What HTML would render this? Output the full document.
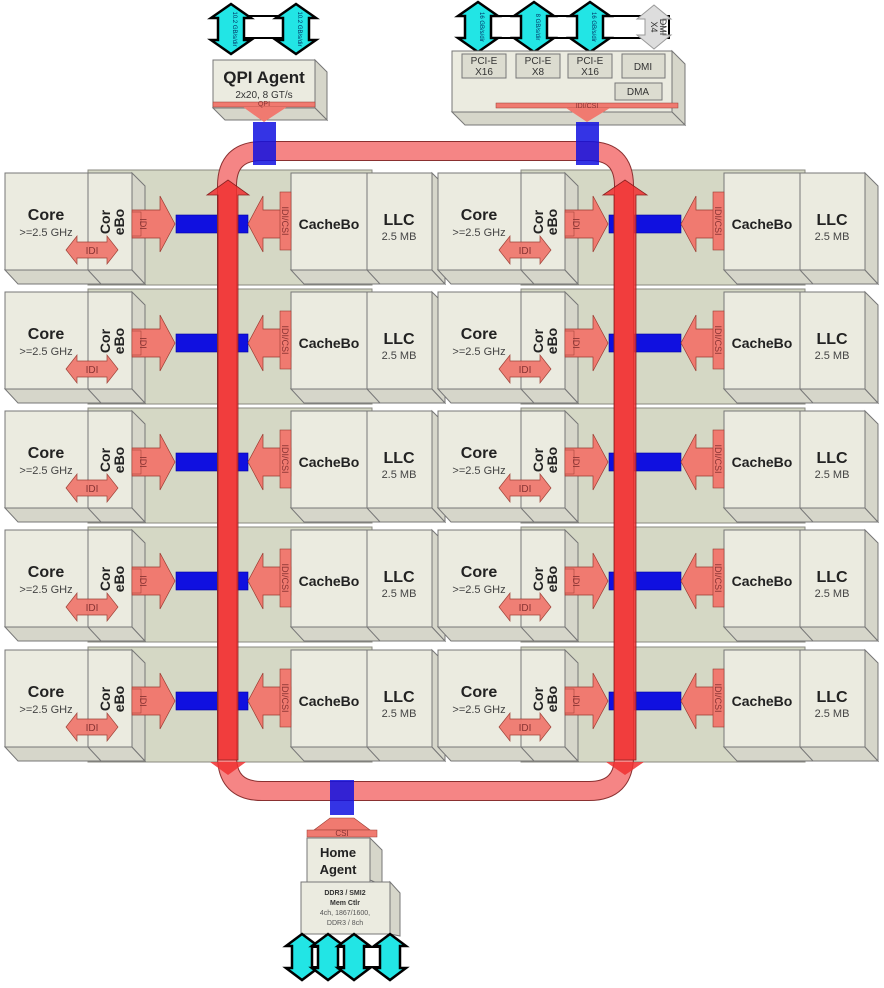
<!DOCTYPE html>
<html><head><meta charset="utf-8"><style>
html,body{margin:0;padding:0;background:#fff;width:884px;height:988px;overflow:hidden}
svg{display:block;font-family:"Liberation Sans",sans-serif}
</style></head><body>
<svg width="884" height="988" viewBox="0 0 884 988" xmlns="http://www.w3.org/2000/svg">
<defs>
<g id="tile">
  <rect x="88" y="0" width="284" height="115" fill="#d5d8c5" stroke="#8a8a80"/>
  <polygon points="5,100 132,100 145,114 18,114" fill="#d6d6ca" stroke="#777"/>
  <polygon points="132,3 145,16 145,114 132,100" fill="#d6d6ca" stroke="#777"/>
  <rect x="5" y="3" width="127" height="97" fill="#ebebe0" stroke="#777"/>
  <line x1="88" y1="3" x2="88" y2="100" stroke="#777"/>
  <line x1="88" y1="100" x2="101" y2="114" stroke="#777"/>
  <polygon points="291,100 432,100 445,114 304,114" fill="#d6d6ca" stroke="#777"/>
  <polygon points="432,3 445,16 445,114 432,100" fill="#d6d6ca" stroke="#777"/>
  <rect x="291" y="3" width="76" height="97" fill="#ebebe0" stroke="#777"/>
  <rect x="367" y="3" width="65" height="97" fill="#ebebe0" stroke="#777"/>
  <line x1="367" y1="100" x2="380" y2="114" stroke="#777"/>
  <rect x="176" y="45" width="72" height="18" fill="#1010e0" stroke="#0000a0" stroke-width="0.6"/>
  <path d="M132,40 H160 V26 L175,54 L160,82 V68 H132 Z" fill="#f07a70" stroke="#9a3a30" stroke-width="0.7"/>
  <path d="M291,40 H263 V26 L248,54 L263,82 V68 H291 Z" fill="#f07a70" stroke="#9a3a30" stroke-width="0.7"/>
  <rect x="280" y="22" width="11" height="58" fill="#f07a70" stroke="#9a3a30" stroke-width="0.6"/>
  <path d="M66,80 L77,66 V72 H107 V66 L118,80 L107,94 V88 H77 V94 Z" fill="#f07a70" stroke="#9a3a30" stroke-width="0.7" opacity="0.95"/>
  <rect x="132" y="42" width="9" height="24" fill="#f07a70" stroke="#9a3a30" stroke-width="0.5"/>
  <text x="46" y="50" font-size="16" font-weight="bold" text-anchor="middle" fill="#222">Core</text>
  <text x="46" y="66" font-size="11" text-anchor="middle" fill="#444">&gt;=2.5 GHz</text>
  <text x="92" y="84" font-size="10" text-anchor="middle" fill="#833">IDI</text>
  <text transform="translate(110,52) rotate(-90)" font-size="14" font-weight="bold" text-anchor="middle" fill="#222">Cor</text>
  <text transform="translate(124,52) rotate(-90)" font-size="14" font-weight="bold" text-anchor="middle" fill="#222">eBo</text>
  <text transform="translate(140,54) rotate(90)" font-size="9" text-anchor="middle" fill="#833">IDI</text>
  <text transform="translate(282,51) rotate(90)" font-size="9" text-anchor="middle" fill="#833">IDI/CSI</text>
  <text x="329" y="59" font-size="14" font-weight="bold" text-anchor="middle" fill="#222">CacheBo</text>
  <text x="399" y="55" font-size="16" font-weight="bold" text-anchor="middle" fill="#222">LLC</text>
  <text x="399" y="70" font-size="11" text-anchor="middle" fill="#444">2.5 MB</text>
</g>
<path id="cy" d="M0,-25 L20,-11 H13 V11 H20 L0,25 L-20,11 H-13 V-11 H-20 Z" fill="#22e5e5" stroke="#000" stroke-width="2.5"/>
<path id="cys" d="M0,-23 L16,-11 H10 V11 H16 L0,23 L-16,11 H-10 V-11 H-16 Z" fill="#22e5e5" stroke="#000" stroke-width="2.5"/>
</defs>

<use href="#tile" x="0" y="170"/><use href="#tile" x="433" y="170"/>
<use href="#tile" x="0" y="289"/><use href="#tile" x="433" y="289"/>
<use href="#tile" x="0" y="408"/><use href="#tile" x="433" y="408"/>
<use href="#tile" x="0" y="527"/><use href="#tile" x="433" y="527"/>
<use href="#tile" x="0" y="647"/><use href="#tile" x="433" y="647"/>

<!-- QPI agent -->
<rect x="244" y="16" width="40" height="22" fill="#fff" stroke="#000" stroke-width="2"/>
<use href="#cy" x="231" y="29"/><use href="#cy" x="296" y="29"/>
<text transform="translate(233,29) rotate(90)" font-size="6" text-anchor="middle" fill="#036">10.2 GB/s/dir</text>
<text transform="translate(298,29) rotate(90)" font-size="6" text-anchor="middle" fill="#036">10.2 GB/s/dir</text>
<polygon points="315,60 327,72 327,120 315,108" fill="#d6d6ca" stroke="#777"/>
<polygon points="213,108 315,108 327,120 225,120" fill="#d6d6ca" stroke="#777"/>
<rect x="213" y="60" width="102" height="48" fill="#ebebe0" stroke="#777"/>
<rect x="213" y="102" width="102" height="5" fill="#f07a70" stroke="#9a3a30" stroke-width="0.5"/>
<polygon points="243,107 287,107 264,122" fill="#f07a70"/>
<text x="264" y="83" font-size="17" font-weight="bold" text-anchor="middle" fill="#222">QPI Agent</text>
<text x="264" y="98" font-size="10" text-anchor="middle" fill="#333">2x20, 8 GT/s</text>
<text x="264" y="106" font-size="7" text-anchor="middle" fill="#833">QPI</text>

<!-- IO agent -->
<rect x="483" y="16" width="186" height="22" fill="#fff" stroke="#000" stroke-width="2"/>
<path d="M0,-22 L17,-8 H9 V8 H17 L0,22 L-17,8 H-9 V-8 H-17 Z" transform="translate(654,27)" fill="#ddd" stroke="#999" stroke-width="1"/>
<text transform="translate(651,27) rotate(90)" font-size="9" text-anchor="middle" fill="#333">X4</text>
<text transform="translate(660,27) rotate(90)" font-size="9" text-anchor="middle" fill="#333">DMI</text>
<use href="#cy" x="478" y="27"/><use href="#cy" x="534" y="27"/><use href="#cy" x="590" y="27"/>
<text transform="translate(480,27) rotate(90)" font-size="6" text-anchor="middle" fill="#036">16 GB/s/dir</text>
<text transform="translate(536,27) rotate(90)" font-size="6" text-anchor="middle" fill="#036">8 GB/s/dir</text>
<text transform="translate(592,27) rotate(90)" font-size="6" text-anchor="middle" fill="#036">16 GB/s/dir</text>
<polygon points="672,51 685,64 685,125 672,112" fill="#d6d6ca" stroke="#777"/>
<polygon points="452,112 672,112 685,125 465,125" fill="#d6d6ca" stroke="#777"/>
<rect x="452" y="51" width="220" height="61" fill="#ebebe0" stroke="#777"/>
<rect x="462" y="54" width="44" height="24" fill="#dcdcd0" stroke="#777"/>
<rect x="516" y="54" width="44" height="24" fill="#dcdcd0" stroke="#777"/>
<rect x="568" y="54" width="44" height="24" fill="#dcdcd0" stroke="#777"/>
<rect x="622" y="54" width="43" height="24" fill="#dcdcd0" stroke="#777"/>
<rect x="615" y="83" width="47" height="17" fill="#dcdcd0" stroke="#777"/>
<text x="484" y="64" font-size="10" text-anchor="middle" fill="#333">PCI-E</text><text x="484" y="75" font-size="10" text-anchor="middle" fill="#333">X16</text>
<text x="538" y="64" font-size="10" text-anchor="middle" fill="#333">PCI-E</text><text x="538" y="75" font-size="10" text-anchor="middle" fill="#333">X8</text>
<text x="590" y="64" font-size="10" text-anchor="middle" fill="#333">PCI-E</text><text x="590" y="75" font-size="10" text-anchor="middle" fill="#333">X16</text>
<text x="643" y="70" font-size="10" text-anchor="middle" fill="#333">DMI</text>
<text x="638" y="95" font-size="10" text-anchor="middle" fill="#333">DMA</text>
<rect x="496" y="103" width="182" height="5" fill="#f07a70" stroke="#9a3a30" stroke-width="0.5"/>
<polygon points="566,108 610,108 587,122" fill="#f07a70"/>
<text x="587" y="108" font-size="7" text-anchor="middle" fill="#833">IDI/CSI</text>

<!-- ring -->
<path d="M227,190 V186 Q227,151 262,151 H589 Q624,151 624,186 V756 Q624,791 589,791 H262 Q227,791 227,756 Z" fill="none" stroke="#8a3030" stroke-width="20"/>
<path d="M227,190 V186 Q227,151 262,151 H589 Q624,151 624,186 V756 Q624,791 589,791 H262 Q227,791 227,756 Z" fill="none" stroke="#f58585" stroke-width="18"/>
<rect x="253" y="122" width="23" height="43" fill="#1010e0" opacity="0.85"/>
<rect x="576" y="122" width="23" height="43" fill="#1010e0" opacity="0.85"/>
<rect x="330" y="780" width="24" height="35" fill="#1010e0" opacity="0.85"/>
<path d="M218,195 H207 L228,180 L249,195 H238 V760 H218 Z" fill="#f03030" fill-opacity="0.85" stroke="#8a2020" stroke-width="0.8"/>
<polygon points="210,762 246,762 228,775" fill="#f03030" opacity="0.85"/>
<path d="M614,195 H603 L625,180 L647,195 H636 V760 H614 Z" fill="#f03030" fill-opacity="0.85" stroke="#8a2020" stroke-width="0.8"/>
<polygon points="606,762 644,762 625,775" fill="#f03030" opacity="0.85"/>

<!-- home agent -->
<polygon points="314,830 330,818 354,818 370,830" fill="#f07a70" stroke="#9a3a30" stroke-width="0.6"/>
<rect x="307" y="830" width="70" height="7" fill="#f07a70" stroke="#9a3a30" stroke-width="0.5"/>
<text x="342" y="836" font-size="8" text-anchor="middle" fill="#833">CSI</text>
<polygon points="370,838 382,850 382,885 370,880" fill="#d6d6ca" stroke="#777"/>
<rect x="307" y="838" width="63" height="44" fill="#ebebe0" stroke="#777"/>
<text x="338" y="857" font-size="13" font-weight="bold" text-anchor="middle" fill="#222">Home</text>
<text x="338" y="874" font-size="13" font-weight="bold" text-anchor="middle" fill="#222">Agent</text>
<polygon points="390,882 400,893 400,936 390,934" fill="#d6d6ca" stroke="#777"/>
<rect x="301" y="882" width="89" height="52" fill="#ebebe0" stroke="#777"/>
<text x="345" y="895" font-size="7" font-weight="bold" text-anchor="middle" fill="#333">DDR3 / SMI2</text>
<text x="345" y="905" font-size="7" font-weight="bold" text-anchor="middle" fill="#333">Mem Ctlr</text>
<text x="345" y="915" font-size="7" text-anchor="middle" fill="#555">4ch, 1867/1600,</text>
<text x="345" y="925" font-size="7" text-anchor="middle" fill="#555">DDR3 / 8ch</text>
<rect x="300" y="947" width="92" height="20" fill="#fff" stroke="#000" stroke-width="2"/>
<use href="#cys" x="302" y="957"/><use href="#cys" x="328" y="957"/><use href="#cys" x="354" y="957"/><use href="#cys" x="390" y="957"/>
</svg>
</body></html>
